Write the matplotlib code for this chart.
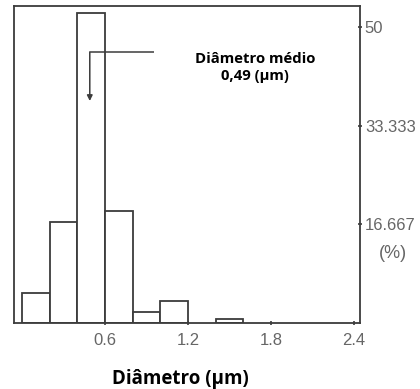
import matplotlib
matplotlib.use("Agg")
import matplotlib.pyplot as plt
from matplotlib.patches import Rectangle

# Data
bin_left = [0.0, 0.2, 0.4, 0.6, 0.8, 1.0, 1.4]
bin_width = 0.2
percent = [5.0, 17.0, 52.3, 19.0, 1.9, 3.8, 0.7]
xticks = [0.6, 1.2, 1.8, 2.4]
xtick_labels = ["0.6", "1.2", "1.8", "2.4"]
yticks = [16.667, 33.333, 50]
ytick_labels = ["16.667", "33.333", "50"]
mean_diam = 0.49

line_c = "#3c3c3c"
tick_c = "#666666"

fig = plt.figure(figsize=(4.2, 3.89), dpi=100)
ax = fig.add_axes([14/420, 1-323/389, (360-14)/420, (323-6)/389])

ax.bar(bin_left, percent, width=bin_width, align="edge", color="white",
       edgecolor=line_c, linewidth=1.3, zorder=2)

ax.set_xlim(-0.058, 2.444)
ax.set_ylim(0, 53.55)

for s in ax.spines.values():
    s.set_color(line_c)
    s.set_linewidth(1.3)

ax.yaxis.tick_right()
ax.set_yticks(yticks)
ax.set_yticklabels(ytick_labels)
ax.set_xticks(xticks)
ax.set_xticklabels(xtick_labels)
tick_font = ["Liberation Sans", "DejaVu Sans"]
ax.tick_params(axis="both", direction="inout", length=3, width=1.2,
               color=line_c, labelcolor=tick_c, labelsize=12)
ax.tick_params(axis="x", pad=6)
ax.tick_params(axis="y", pad=2)
for lab in ax.get_xticklabels() + ax.get_yticklabels():
    lab.set_family(tick_font)

ax.text(1.055, 11.8, "(%)", transform=ax.get_yaxis_transform(),
        ha="left", va="center", fontsize=13, color=tick_c,
        family=tick_font)

# Mean diameter arrow
ax.plot([0.955, mean_diam], [45.7, 45.7], color=line_c, lw=1.1, zorder=3)
ax.annotate("", xy=(mean_diam, 37.5), xytext=(mean_diam, 45.7),
            arrowprops=dict(arrowstyle="-|>", color=line_c, lw=1.1,
                            mutation_scale=8, shrinkA=0, shrinkB=0),
            zorder=3)

# White label box
fig.patches.append(Rectangle((154/420, 1-92/389), (357-154)/420, (92-37)/389,
                             transform=fig.transFigure, facecolor="white",
                             edgecolor="none", zorder=5))
fig.text(255/420, 1-67.5/389, "Diâmetro médio\n0,49 (µm)", ha="center",
         va="center", fontsize=10.7, fontweight="bold", family="Open Sans",
         linespacing=1.3, zorder=6)

fig.text(180/420, 1-379/389, "Diâmetro (µm)", ha="center", va="center",
         fontsize=13.5, fontweight="bold", family="Open Sans")

fig.savefig("out.png", dpi=100, facecolor="white")
